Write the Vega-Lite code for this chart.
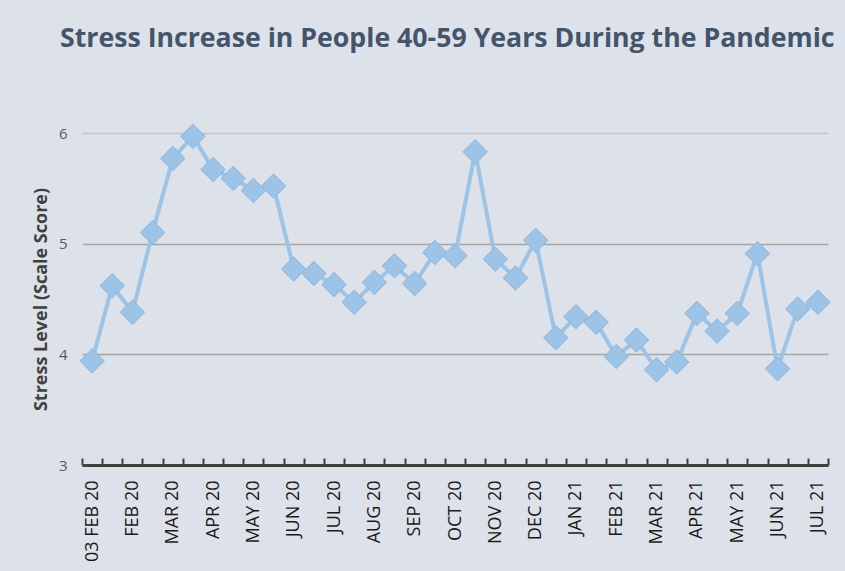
{
  "$schema": "https://vega.github.io/schema/vega-lite/v6.json",
  "autosize": "none",
  "width": 746,
  "height": 332,
  "padding": {"left": 82, "top": 133, "right": 17, "bottom": 106},
  "background": "#DDE1E9",
  "config": {"view": {"stroke": null}, "font": "Open Sans"},
  "title": {
    "text": "Stress Increase in People 40-59 Years During the Pandemic",
    "anchor": "start",
    "frame": "group",
    "dx": -22,
    "offset": 48,
    "baseline": "alphabetic",
    "fontSize": 26.7,
    "font": "Open Sans",
    "fontWeight": "bold",
    "color": "#44546A"
  },
  "data": {
    "values": [
      {"n": 0, "stress": 3.94},
      {"n": 1, "stress": 4.62},
      {"n": 2, "stress": 4.38},
      {"n": 3, "stress": 5.10},
      {"n": 4, "stress": 5.77},
      {"n": 5, "stress": 5.97},
      {"n": 6, "stress": 5.67},
      {"n": 7, "stress": 5.59},
      {"n": 8, "stress": 5.48},
      {"n": 9, "stress": 5.52},
      {"n": 10, "stress": 4.77},
      {"n": 11, "stress": 4.73},
      {"n": 12, "stress": 4.63},
      {"n": 13, "stress": 4.47},
      {"n": 14, "stress": 4.65},
      {"n": 15, "stress": 4.80},
      {"n": 16, "stress": 4.64},
      {"n": 17, "stress": 4.92},
      {"n": 18, "stress": 4.89},
      {"n": 19, "stress": 5.83},
      {"n": 20, "stress": 4.86},
      {"n": 21, "stress": 4.69},
      {"n": 22, "stress": 5.03},
      {"n": 23, "stress": 4.15},
      {"n": 24, "stress": 4.34},
      {"n": 25, "stress": 4.29},
      {"n": 26, "stress": 3.98},
      {"n": 27, "stress": 4.13},
      {"n": 28, "stress": 3.86},
      {"n": 29, "stress": 3.93},
      {"n": 30, "stress": 4.37},
      {"n": 31, "stress": 4.21},
      {"n": 32, "stress": 4.37},
      {"n": 33, "stress": 4.91},
      {"n": 34, "stress": 3.87},
      {"n": 35, "stress": 4.41},
      {"n": 36, "stress": 4.47}
    ]
  },
  "encoding": {
    "x": {
      "field": "n",
      "type": "ordinal",
      "scale": {"type": "band", "paddingInner": 0, "paddingOuter": 0},
      "axis": {
        "title": null,
        "tickBand": "extent",
        "domainColor": "#404040",
        "domainWidth": 3,
        "tickColor": "#404040",
        "tickWidth": 2,
        "tickSize": -7,
        "labelAngle": -90,
        "labelPadding": 22,
        "labelFontSize": 18,
        "labelColor": "#1a1a1a",
        "labelOverlap": false,
        "labelExpr": "['03 FEB 20','','FEB 20','','MAR 20','','APR 20','','MAY 20','','JUN 20','','JUL 20','','AUG 20','','SEP 20','','OCT 20','','NOV 20','','DEC 20','','JAN 21','','FEB 21','','MAR 21','','APR 21','','MAY 21','','JUN 21','','JUL 21'][datum.value]"
      }
    },
    "y": {
      "field": "stress",
      "type": "quantitative",
      "scale": {"domain": [3, 6], "nice": false, "zero": false},
      "axis": {
        "values": [3, 4, 5, 6],
        "title": "Stress Level (Scale Score)",
        "titleFontSize": 18,
        "titleFontWeight": "bold",
        "titleColor": "#404040",
        "titleX": -41,
        "titleY": 166,
        "titleAngle": -90,
        "titleAlign": "center",
        "titleBaseline": "middle",
        "domain": false,
        "ticks": false,
        "grid": true,
        "gridColor": {"condition": {"test": "datum.value == 6", "value": "#C2C4C8"}, "value": "#A6A6A6"},
        "gridWidth": 1.5,
        "labelColor": "#595959",
        "labelFontSize": 15,
        "labelPadding": 15
      }
    }
  },
  "layer": [
    {"mark": {"type": "line", "color": "#9DC3E6", "strokeWidth": 4}},
    {"mark": {"type": "point", "shape": "diamond", "size": 600, "filled": true, "opacity": 1, "color": "#9DC3E6", "stroke": "#8DB6DE", "strokeWidth": 1}}
  ]
}
